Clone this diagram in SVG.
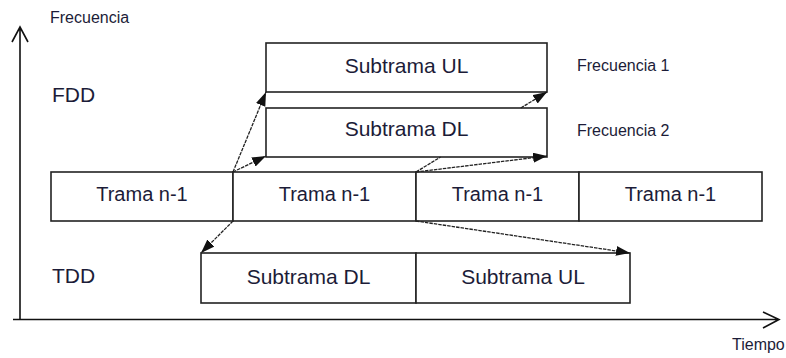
<svg xmlns="http://www.w3.org/2000/svg" width="786" height="358" viewBox="0 0 786 358">
  <defs>
    <marker id="head" markerUnits="userSpaceOnUse" markerWidth="15" markerHeight="11" refX="14" refY="5" orient="auto">
      <path d="M0,0 L14,5 L0,10 z" fill="#111"/>
    </marker>
    <style>
      .box { fill: #fff; stroke: #222; stroke-width: 1.6; }
      .axis { fill: none; stroke: #111; stroke-width: 1.6; }
      .link { fill: none; stroke: #222; stroke-width: 1.3; stroke-dasharray: 3.5 1; }
      .lbl { font-family: "Liberation Sans", Arial, sans-serif; fill: #1c1c38; }
      .big { font-size: 21px; text-anchor: middle; }
      .frame { font-size: 20px; text-anchor: middle; }
      .small { font-size: 16px; }
    </style>
  </defs>
  <rect width="786" height="358" fill="#fff"/>

  <!-- axes -->
  <g id="axes">
    <path class="axis" d="M20,320 V27 M12,42 L20,27 L28,42"/>
    <path class="axis" d="M13,319.5 H779 M763,312 L779,319.5 L763,328"/>
    <text class="lbl small" x="50" y="23">Frecuencia</text>
    <text class="lbl small" x="732" y="350">Tiempo</text>
  </g>

  <!-- section labels -->
  <text class="lbl" x="52" y="102" font-size="21">FDD</text>
  <text class="lbl" x="52" y="283" font-size="21">TDD</text>

  <!-- frame row -->
  <g id="trama1">
    <rect class="box" x="51" y="172" width="182" height="49"/>
    <text class="lbl frame" x="142" y="201">Trama n-1</text>
  </g>
  <g id="trama2">
    <rect class="box" x="233" y="172" width="183" height="49"/>
    <text class="lbl frame" x="324.5" y="201">Trama n-1</text>
  </g>
  <g id="trama3">
    <rect class="box" x="416" y="172" width="163" height="49"/>
    <text class="lbl frame" x="497.5" y="201">Trama n-1</text>
  </g>
  <g id="trama4">
    <rect class="box" x="579" y="172" width="183" height="49"/>
    <text class="lbl frame" x="670.5" y="201">Trama n-1</text>
  </g>

  <!-- FDD subframes -->
  <g id="fdd-ul">
    <rect class="box" x="266" y="43" width="281" height="49"/>
    <text class="lbl big" x="406.5" y="73">Subtrama UL</text>
  </g>
  <g id="fdd-dl">
    <rect class="box" x="266" y="108" width="281" height="49"/>
    <text class="lbl big" x="406.5" y="136">Subtrama DL</text>
  </g>
  <text class="lbl small" x="577" y="71">Frecuencia 1</text>
  <text class="lbl small" x="577" y="136">Frecuencia 2</text>

  <!-- TDD subframes -->
  <g id="tdd-dl">
    <rect class="box" x="201" y="253" width="215" height="50"/>
    <text class="lbl big" x="308.5" y="284">Subtrama DL</text>
  </g>
  <g id="tdd-ul">
    <rect class="box" x="416" y="253" width="214" height="50"/>
    <text class="lbl big" x="523" y="284">Subtrama UL</text>
  </g>

  <!-- connectors -->
  <g id="connectors">
    <path class="link" d="M233,172 L266,92" marker-end="url(#head)"/>
    <path class="link" d="M233,172 L266,156" marker-end="url(#head)"/>
    <path class="link" d="M416,172 L440.6,157"/>
    <path class="link" d="M520.8,108 L547,92" marker-end="url(#head)"/>
    <path class="link" d="M416,172 L547,156" marker-end="url(#head)"/>
    <path class="link" d="M233,221 L201,253" marker-end="url(#head)"/>
    <path class="link" d="M416,221 L630,253" marker-end="url(#head)"/>
  </g>
</svg>
